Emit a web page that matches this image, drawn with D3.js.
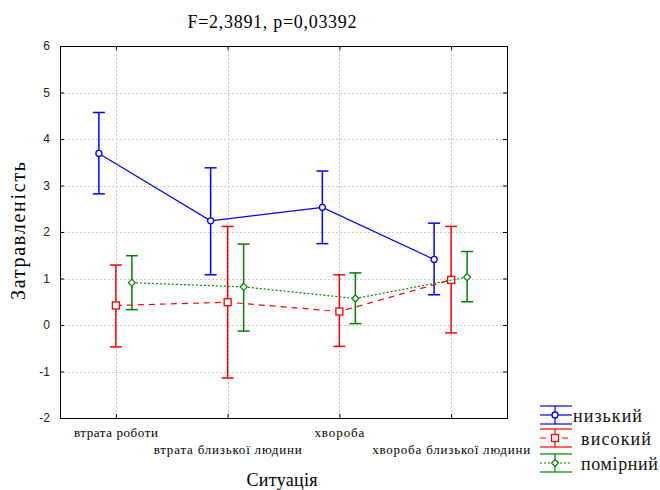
<!DOCTYPE html>
<html>
<head>
<meta charset="utf-8">
<script src="https://cdn.jsdelivr.net/npm/d3@7"></script>
<style>
  body { margin: 0; background: #fff; }
  svg { display: block; }
</style>
</head>
<body>
<svg id="chart" width="660" height="490"></svg>
<script>
const categories = ["втрата роботи", "втрата близької людини", "хвороба", "хвороба близької людини"];
const seriesNames = ["низький", "високий", "помірний"];

// means and confidence limits
const lowMean = [3.69, 2.24, 2.53, 1.41];
const lowUpper = [4.57, 3.38, 3.31, 2.19];
const lowLower = [2.82, 1.08, 1.75, 0.65];

const highMean = [0.42, 0.49, 0.29, 0.97];
const highUpper = [1.29, 2.12, 1.08, 2.12];
const highLower = [-0.47, -1.14, -0.46, -0.17];

const midMean = [0.91, 0.82, 0.57, 1.03];
const midUpper = [1.49, 1.74, 1.12, 1.58];
const midLower = [0.33, -0.13, 0.03, 0.50];

const yTicks = [-2, -1, 0, 1, 2, 3, 4, 5, 6];

const svg = d3.select("#chart");
const plotLeft = 60, plotRight = 507, plotTop = 46, plotBottom = 418;
const serif = "'Liberation Serif', 'Times New Roman', serif";

const x = d3.scalePoint().domain(categories).range([plotLeft, plotRight]).padding(0.5);
const y = d3.scaleLinear().domain([-2, 6]).range([plotBottom, plotTop]);

const series = [
  { name: seriesNames[0], mean: lowMean, upper: lowUpper, lower: lowLower, color: "#0000ff", dash: null, marker: "circle", dx: -17 },
  { name: seriesNames[1], mean: highMean, upper: highUpper, lower: highLower, color: "#ff0000", dash: "6,5", marker: "square", dx: 0 },
  { name: seriesNames[2], mean: midMean, upper: midUpper, lower: midLower, color: "#008000", dash: "2,2", marker: "diamond", dx: 16 }
];

// grid
const grid = svg.append("g").attr("stroke", "#c8c8c8").attr("stroke-dasharray", "2,2").attr("stroke-width", 1);
grid.selectAll(".gy").data(yTicks.slice(1, -1)).enter().append("line")
  .attr("x1", plotLeft).attr("x2", plotRight)
  .attr("y1", d => Math.round(y(d)) + 0.5).attr("y2", d => Math.round(y(d)) + 0.5);
grid.selectAll(".gx").data(categories).enter().append("line")
  .attr("y1", plotTop).attr("y2", plotBottom)
  .attr("x1", d => Math.round(x(d)) + 0.5).attr("x2", d => Math.round(x(d)) + 0.5);

// axes with inward ticks
const yAxisL = d3.axisLeft(y).tickValues(yTicks).tickSize(-4).tickPadding(10).tickFormat(d => String(d));
svg.append("g").attr("transform", `translate(${plotLeft},0)`).call(yAxisL)
  .call(g => g.select(".domain").remove())
  .call(g => g.selectAll("text").attr("font-family", "Arial, 'Liberation Sans', sans-serif").attr("font-size", 12).attr("fill", "#222"));
svg.append("g").attr("transform", `translate(${plotRight},0)`).call(d3.axisRight(y).tickValues(yTicks).tickSize(-4).tickFormat(""))
  .call(g => g.select(".domain").remove());
svg.append("g").attr("transform", `translate(0,${plotBottom})`).call(d3.axisBottom(x).tickSize(-4).tickFormat(""))
  .call(g => g.select(".domain").remove());
svg.append("g").attr("transform", `translate(0,${plotTop})`).call(d3.axisTop(x).tickSize(-4).tickFormat(""))
  .call(g => g.select(".domain").remove());

svg.append("rect").attr("x", plotLeft + 0.5).attr("y", plotTop + 0.5)
  .attr("width", plotRight - plotLeft).attr("height", plotBottom - plotTop)
  .attr("fill", "none").attr("stroke", "#000").attr("stroke-width", 1);

// category labels, staggered (widths as in the reference)
const catWidths = [84, 148, 50, 158];
svg.append("g").selectAll("text").data(categories).enter().append("text")
  .attr("x", d => x(d))
  .attr("y", (d, i) => i % 2 === 0 ? 437 : 454)
  .attr("text-anchor", "middle")
  .attr("font-family", serif)
  .attr("font-size", 13)
  .attr("textLength", (d, i) => catWidths[i])
  .attr("lengthAdjust", "spacing")
  .text(d => d);

// series
const line = d3.line();
function drawMarker(g, type, cx, cy, color) {
  if (type === "circle") {
    g.append("circle").attr("cx", cx).attr("cy", cy).attr("r", 3)
      .attr("fill", "#fff").attr("stroke", color).attr("stroke-width", 1.3);
  } else if (type === "square") {
    g.append("rect").attr("x", cx - 3.5).attr("y", cy - 3.5).attr("width", 7).attr("height", 7)
      .attr("fill", "#fff").attr("stroke", color).attr("stroke-width", 1.3);
  } else {
    g.append("path").attr("d", `M${cx},${cy - 3.5}L${cx + 3.5},${cy}L${cx},${cy + 3.5}L${cx - 3.5},${cy}Z`)
      .attr("fill", "#fff").attr("stroke", color).attr("stroke-width", 1.2);
  }
}

series.forEach(s => {
  const g = svg.append("g");
  const pts = categories.map((c, i) => [x(c) + s.dx, y(s.mean[i])]);
  g.append("path").attr("d", line(pts)).attr("fill", "none")
    .attr("stroke", s.color).attr("stroke-width", 1.2)
    .attr("stroke-dasharray", s.dash);
  categories.forEach((c, i) => {
    const cx = x(c) + s.dx;
    const eb = g.append("g").attr("stroke", s.color).attr("stroke-width", 1.5);
    eb.append("line").attr("x1", cx).attr("x2", cx).attr("y1", y(s.upper[i])).attr("y2", y(s.lower[i]));
    eb.append("line").attr("x1", cx - 6).attr("x2", cx + 6).attr("y1", y(s.upper[i])).attr("y2", y(s.upper[i]));
    eb.append("line").attr("x1", cx - 6).attr("x2", cx + 6).attr("y1", y(s.lower[i])).attr("y2", y(s.lower[i]));
  });
  categories.forEach((c, i) => drawMarker(g, s.marker, x(c) + s.dx, y(s.mean[i]), s.color));
});

// legend
const legend = svg.append("g");
const legendY = [415, 438, 463];
const legendTextX = [573, 581, 581];
const legendWidths = [69, 70, 77];
series.forEach((s, i) => {
  const ly = legendY[i];
  const lg = legend.append("g");
  lg.append("line").attr("x1", 540).attr("x2", 572).attr("y1", ly - 9).attr("y2", ly - 9).attr("stroke", s.color).attr("stroke-width", 1.2);
  lg.append("line").attr("x1", 540).attr("x2", 572).attr("y1", ly + 9).attr("y2", ly + 9).attr("stroke", s.color).attr("stroke-width", 1.2);
  lg.append("line").attr("x1", 555).attr("x2", 555).attr("y1", ly - 9).attr("y2", ly + 9).attr("stroke", s.color).attr("stroke-width", 1.2);
  lg.append("line").attr("x1", 540).attr("x2", 572).attr("y1", ly).attr("y2", ly).attr("stroke", s.color)
    .attr("stroke-width", 1.2).attr("stroke-dasharray", s.dash);
  drawMarker(lg, s.marker, 555, ly, s.color);
  lg.append("text").attr("x", legendTextX[i]).attr("y", ly + 7)
    .attr("font-family", serif).attr("font-size", 18)
    .attr("textLength", legendWidths[i]).attr("lengthAdjust", "spacing")
    .attr("fill", "#111").text(s.name);
});

// titles
svg.append("text").attr("x", 272).attr("y", 28).attr("text-anchor", "middle")
  .attr("font-family", serif).attr("font-size", 18)
  .attr("textLength", 169).attr("lengthAdjust", "spacing")
  .text("F=2,3891, p=0,03392");
svg.append("text").attr("x", 282).attr("y", 486).attr("text-anchor", "middle")
  .attr("font-family", serif).attr("font-size", 18)
  .attr("textLength", 71).attr("lengthAdjust", "spacing")
  .text("Ситуація");
svg.append("text").attr("transform", "translate(25,231) rotate(-90)").attr("text-anchor", "middle")
  .attr("font-family", serif).attr("font-size", 20)
  .attr("textLength", 138).attr("lengthAdjust", "spacing")
  .text("Затравленість");
</script>
</body>
</html>
